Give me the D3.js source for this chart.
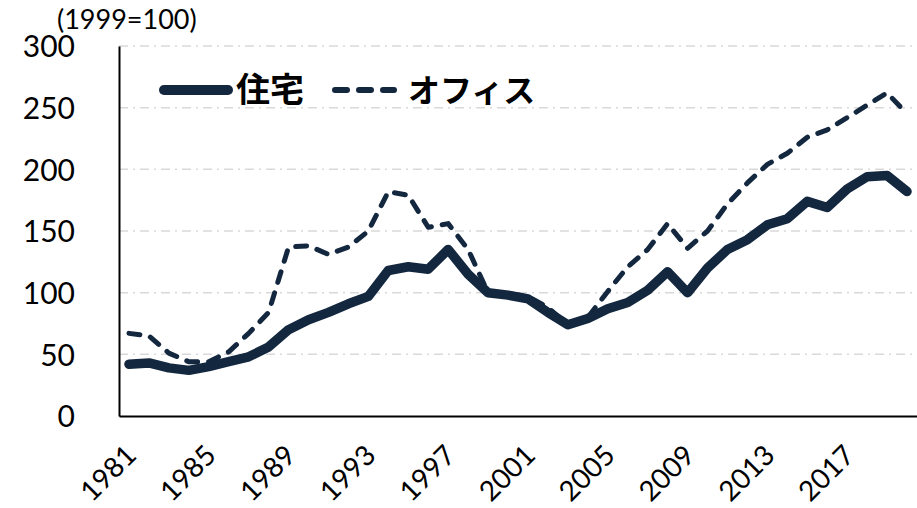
<!DOCTYPE html>
<html>
<head>
<meta charset="utf-8">
<script src="https://cdn.jsdelivr.net/npm/d3@7"></script>
<style>
  body { margin: 0; background: #fff; }
  svg { display: block; }
</style>
</head>
<body>
<div id="chart"></div>
<script>
// index values, 1999 = 100
var years = d3.range(1981, 2021);
var housing = [42, 43, 39, 37, 40, 44, 48, 56, 70, 78, 84, 91, 97, 118, 121, 119, 135, 115, 100, 98,
               95, 84, 74, 79, 87, 92, 102, 117, 100, 120, 135, 143, 155, 160, 174, 169, 184, 194, 195, 182];
var office = [67, 65, 51, 44, 44, 52, 67, 84, 137, 138, 131, 137, 150, 182, 179, 153, 156, 135, 100, 99,
              97, 88, 74, 80, 101, 121, 135, 156, 136, 150, 172, 189, 204, 213, 226, 232, 242, 252, 262, 245];
var yTicks = [0, 50, 100, 150, 200, 250, 300];
var xLabels = [1981, 1985, 1989, 1993, 1997, 2001, 2005, 2009, 2013, 2017];

var width = 917, height = 508;
var margin = {top: 46, right: 0, bottom: 92, left: 119};
var navy = "#13273f";

var svg = d3.select("#chart").append("svg")
    .attr("width", width)
    .attr("height", height);

var x = d3.scaleBand()
    .domain(years)
    .range([margin.left, width - margin.right]);

var y = d3.scaleLinear()
    .domain([0, 300])
    .range([height - margin.bottom, margin.top]);

function cx(d, i) { return x(years[i]) + x.bandwidth() / 2; }

///////// grid lines

svg.append("g")
  .selectAll("line")
  .data(yTicks.filter(function(d) { return d > 0; }))
  .enter().append("line")
    .attr("x1", margin.left)
    .attr("x2", width - margin.right)
    .attr("y1", function(d) { return y(d); })
    .attr("y2", function(d) { return y(d); })
    .attr("stroke", "#d9d9d9")
    .attr("stroke-width", 1.5)
    .attr("stroke-dasharray", "9,5,2,5");

///////// axes

var yAxis = d3.axisLeft(y).tickValues(yTicks).tickSize(0).tickPadding(44);
var gY = svg.append("g")
    .attr("transform", "translate(" + margin.left + ",0)")
    .call(yAxis);
gY.select(".domain").attr("stroke", "#000").attr("stroke-width", 2);
gY.selectAll("text")
    .attr("fill", "#000")
    .style("font-family", "Lato, 'Liberation Sans', sans-serif")
    .style("font-size", "30px")
    .attr("dy", "0.36em");

var xAxis = d3.axisBottom(x).tickValues(xLabels).tickSize(0).tickFormat(d3.format("d"));
var gX = svg.append("g")
    .attr("transform", "translate(0," + (height - margin.bottom) + ")")
    .call(xAxis);
gX.select(".domain").attr("stroke", "#000").attr("stroke-width", 2);
gX.selectAll("text")
    .attr("fill", "#000")
    .style("font-family", "Lato, 'Liberation Sans', sans-serif")
    .style("font-size", "28px")
    .attr("text-anchor", "end")
    .attr("y", 0)
    .attr("dy", 0)
    .attr("transform", "translate(9,41) rotate(-45)");

///////// lines

var line = d3.line()
    .x(cx)
    .y(function(d) { return y(d); });

svg.append("path")
    .datum(office)
    .attr("fill", "none")
    .attr("stroke", navy)
    .attr("stroke-width", 5)
    .attr("stroke-linecap", "round")
    .attr("stroke-linejoin", "round")
    .attr("stroke-dasharray", "11,11")
    .attr("d", line);

svg.append("path")
    .datum(housing)
    .attr("fill", "none")
    .attr("stroke", navy)
    .attr("stroke-width", 9.5)
    .attr("stroke-linecap", "round")
    .attr("stroke-linejoin", "round")
    .attr("d", line);

///////// unit label and legend

svg.append("text")
    .attr("x", 57)
    .attr("y", 29)
    .style("font-family", "Lato, 'Liberation Sans', sans-serif")
    .style("font-size", "27px")
    .text("(1999=100)");

var legend = svg.append("g").attr("transform", "translate(0,90)");

legend.append("line")
    .attr("x1", 164).attr("x2", 228)
    .attr("stroke", navy)
    .attr("stroke-width", 10)
    .attr("stroke-linecap", "round");

legend.append("text")
    .attr("x", 236)
    .attr("y", 12)
    .style("font-family", "'Noto Sans CJK JP', sans-serif")
    .style("font-weight", "bold")
    .style("font-size", "34px")
    .text("住宅");

legend.append("line")
    .attr("x1", 335).attr("x2", 394)
    .attr("stroke", navy)
    .attr("stroke-width", 6)
    .attr("stroke-linecap", "round")
    .attr("stroke-dasharray", "12,12");

legend.append("text")
    .attr("x", 408)
    .attr("y", 12)
    .style("font-family", "'Noto Sans CJK JP', sans-serif")
    .style("font-weight", "bold")
    .style("font-size", "32px")
    .text("オフィス");
</script>
</body>
</html>
